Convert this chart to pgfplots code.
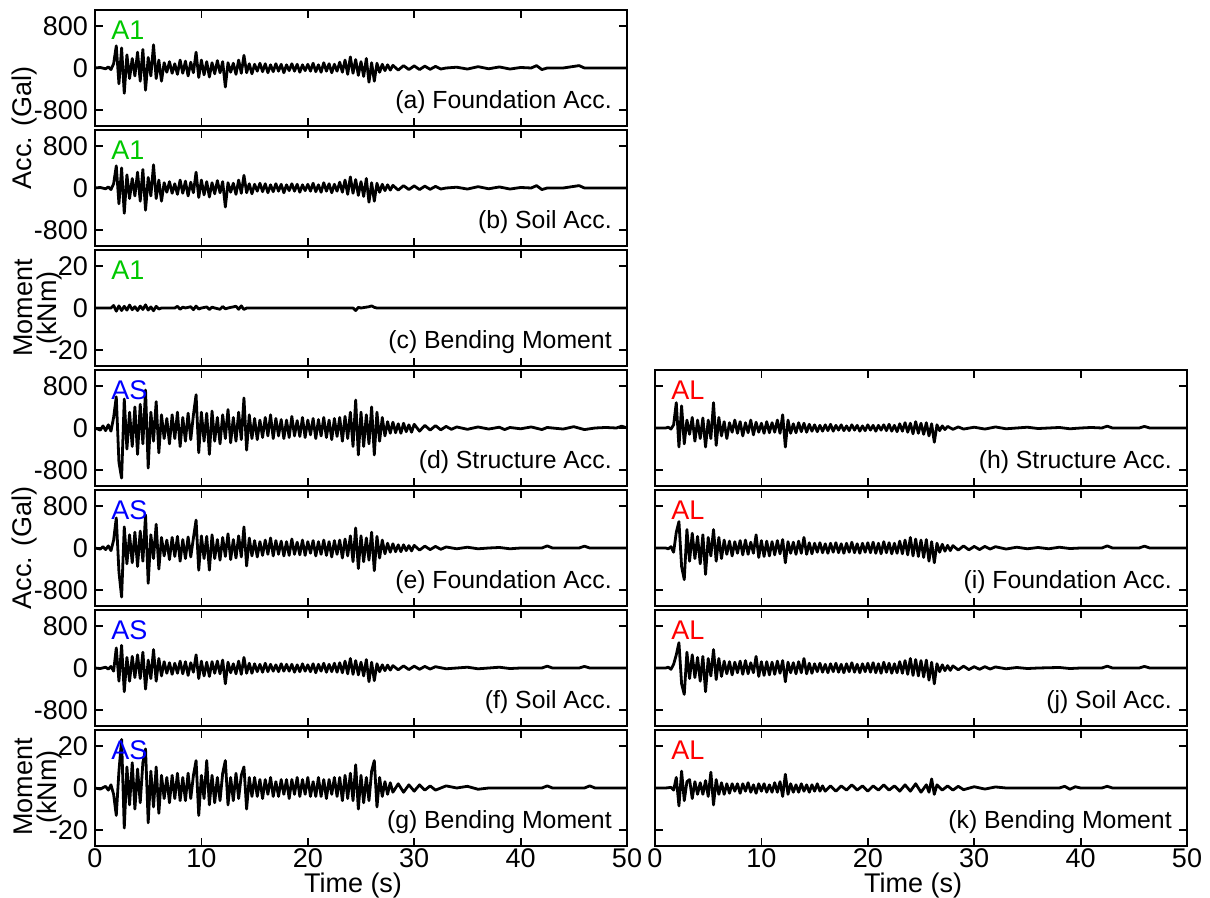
\documentclass[border=0pt]{standalone}
\usepackage{fontspec}
\setmainfont{Liberation Sans}
\usepackage{pgfplots}
\usepackage{pgfplotstable}
\pgfplotsset{compat=1.18}

\definecolor{ca}{RGB}{0,200,0}
\definecolor{cs}{RGB}{0,0,255}
\definecolor{cl}{RGB}{255,0,0}
\newcommand\ticksize{\fontsize{13.5}{15}\selectfont}
\newcommand\lblsize{\fontsize{12.4}{14}\selectfont}

% ---- time histories: t [s], value (Gal or kNm) ----
% A1: foundation and soil acceleration
\pgfplotstableread[row sep=\\]{t y\\
0 0\\ 0.5 10\\ 1 -15\\ 1.25 20\\ 1.5 -30\\ 1.75 80\\ 2 420\\ 2.25 -300\\ 2.5 380\\ 2.75 -480\\ 3 250\\ 3.25 -200\\ 3.5 180\\ 3.75 -150\\ 4 300\\ 4.25 -250\\ 4.5 350\\ 4.75 -420\\ 5 200\\ 5.25 -150\\ 5.5 440\\ 5.75 -200\\ 6 150\\ 6.25 -250\\ 6.5 100\\ 6.75 -80\\ 7 120\\ 7.25 -100\\ 7.5 80\\ 7.75 -120\\ 8 150\\ 8.25 -100\\ 8.5 130\\ 8.75 -150\\ 9 110\\ 9.25 -90\\ 9.5 300\\ 9.75 -180\\ 10 150\\ 10.25 -130\\ 10.5 120\\ 10.75 -170\\ 11 100\\ 11.25 -110\\ 11.5 140\\ 11.75 -90\\ 12 120\\ 12.25 -360\\ 12.5 100\\ 12.75 -80\\ 13 90\\ 13.25 -120\\ 13.5 150\\ 13.75 -100\\ 14 240\\ 14.25 -90\\ 14.5 80\\ 14.75 -110\\ 15 70\\ 15.25 -60\\ 15.5 90\\ 15.75 -70\\ 16 80\\ 16.25 -90\\ 16.5 60\\ 16.75 -70\\ 17 80\\ 17.25 -60\\ 17.5 70\\ 17.75 -90\\ 18 60\\ 18.25 -50\\ 18.5 80\\ 18.75 -60\\ 19 70\\ 19.25 -80\\ 19.5 60\\ 19.75 -50\\ 20 70\\ 20.25 -60\\ 20.5 90\\ 20.75 -70\\ 21 60\\ 21.25 -80\\ 21.5 100\\ 21.75 -60\\ 22 80\\ 22.25 -90\\ 22.5 70\\ 22.75 -60\\ 23 110\\ 23.25 -80\\ 23.5 150\\ 23.75 -120\\ 24 210\\ 24.25 -100\\ 24.5 160\\ 24.75 -140\\ 25 120\\ 25.25 -160\\ 25.5 180\\ 25.75 -270\\ 26 100\\ 26.25 -250\\ 26.5 90\\ 26.75 -80\\ 27 70\\ 27.25 -50\\ 27.5 60\\ 27.75 -40\\ 28 50\\ 28.5 -40\\ 29 45\\ 29.5 -30\\ 30 40\\ 30.5 -30\\ 31 35\\ 31.5 -25\\ 32 30\\ 32.5 -20\\ 33 0\\ 34 15\\ 35 -20\\ 36 25\\ 37 -15\\ 38 20\\ 39 -20\\ 40 10\\ 41 0\\ 41.5 45\\ 42 -30\\ 42.5 0\\ 44 0\\ 45.5 45\\ 46 0\\ 50 0\\
}\accA

% A1: bending moment
\pgfplotstableread[row sep=\\]{t y\\
0 0\\ 1.5 0\\ 1.75 1.2\\ 2 -1.5\\ 2.25 1.0\\ 2.5 -1.2\\ 2.75 0.8\\ 3 -1.0\\ 3.25 1.4\\ 3.5 -0.8\\ 3.75 0.6\\ 4 -1.2\\ 4.25 0.9\\ 4.5 -0.7\\ 4.75 1.5\\ 5 -1.0\\ 5.25 0.5\\ 5.5 -1.3\\ 5.75 0.8\\ 6 -0.5\\ 6.25 0\\ 7.5 0\\ 7.75 0.8\\ 8 -0.6\\ 8.25 0.4\\ 8.5 0\\ 9 0.6\\ 9.25 -0.8\\ 9.5 0.9\\ 9.75 -0.5\\ 10 0\\ 10.5 0.5\\ 10.75 -0.7\\ 11 0.4\\ 11.25 0\\ 11.75 -0.6\\ 12 0.7\\ 12.25 -0.4\\ 12.5 0\\ 13.25 0.8\\ 13.5 -0.6\\ 13.75 1.0\\ 14 -0.7\\ 14.25 0\\ 24.25 0\\ 24.5 -1.2\\ 24.75 0.3\\ 25 0\\ 25.75 0.6\\ 26 1.0\\ 26.25 0.3\\ 26.5 0\\ 50 0\\
}\momA

% AS: structure acceleration
\pgfplotstableread[row sep=\\]{t y\\
0 0\\ 0.5 -40\\ 0.75 40\\ 1 -50\\ 1.25 60\\ 1.5 -60\\ 1.75 200\\ 2 590\\ 2.25 -650\\ 2.5 -950\\ 2.75 550\\ 3 -400\\ 3.25 300\\ 3.5 -350\\ 3.75 400\\ 4 -500\\ 4.25 450\\ 4.5 -300\\ 4.75 720\\ 5 -760\\ 5.25 300\\ 5.5 -250\\ 5.75 500\\ 6 -470\\ 6.25 250\\ 6.5 -200\\ 6.75 180\\ 7 -300\\ 7.25 250\\ 7.5 -200\\ 7.75 300\\ 8 -350\\ 8.25 200\\ 8.5 -250\\ 8.75 280\\ 9 -220\\ 9.25 250\\ 9.5 630\\ 9.75 -470\\ 10 300\\ 10.25 -250\\ 10.5 280\\ 10.75 -500\\ 11 320\\ 11.25 -250\\ 11.5 200\\ 11.75 -300\\ 12 250\\ 12.25 -200\\ 12.5 350\\ 12.75 -280\\ 13 200\\ 13.25 -250\\ 13.5 300\\ 13.75 -220\\ 14 570\\ 14.25 -420\\ 14.5 250\\ 14.75 -200\\ 15 180\\ 15.25 -220\\ 15.5 150\\ 15.75 -180\\ 16 200\\ 16.25 -150\\ 16.5 250\\ 16.75 -200\\ 17 180\\ 17.25 -150\\ 17.5 160\\ 17.75 -200\\ 18 150\\ 18.25 -180\\ 18.5 220\\ 18.75 -150\\ 19 140\\ 19.25 -160\\ 19.5 200\\ 19.75 -180\\ 20 150\\ 20.25 -130\\ 20.5 180\\ 20.75 -200\\ 21 160\\ 21.25 -150\\ 21.5 200\\ 21.75 -180\\ 22 150\\ 22.25 -220\\ 22.5 180\\ 22.75 -160\\ 23 200\\ 23.25 -250\\ 23.5 220\\ 23.75 -200\\ 24 300\\ 24.25 -350\\ 24.5 530\\ 24.75 -510\\ 25 300\\ 25.25 -350\\ 25.5 250\\ 25.75 -300\\ 26 400\\ 26.25 -510\\ 26.5 300\\ 26.75 -250\\ 27 200\\ 27.25 -150\\ 27.5 120\\ 27.75 -100\\ 28 110\\ 28.25 -90\\ 28.5 80\\ 28.75 -100\\ 29 90\\ 29.25 -70\\ 29.5 60\\ 29.75 -80\\ 30 70\\ 30.5 -60\\ 31 50\\ 31.5 -40\\ 32 45\\ 32.5 -35\\ 33 30\\ 33.5 -25\\ 34 20\\ 35 -25\\ 36 20\\ 37 -20\\ 38 15\\ 38.5 -30\\ 39 10\\ 40 -15\\ 41 20\\ 42 -30\\ 42.5 10\\ 43 0\\ 44 -20\\ 45 25\\ 46 -30\\ 47 0\\ 48 10\\ 49 0\\ 49.5 35\\ 50 0\\
}\strS

% AS: foundation acceleration
\pgfplotstableread[row sep=\\]{t y\\
0 0\\ 0.5 -20\\ 0.75 25\\ 1 -30\\ 1.25 40\\ 1.5 -50\\ 1.75 150\\ 2 570\\ 2.25 -450\\ 2.5 -930\\ 2.75 400\\ 3 -300\\ 3.25 250\\ 3.5 -280\\ 3.75 300\\ 4 -350\\ 4.25 320\\ 4.5 -250\\ 4.75 630\\ 5 -670\\ 5.25 250\\ 5.5 -200\\ 5.75 450\\ 6 -400\\ 6.25 200\\ 6.5 -150\\ 6.75 150\\ 7 -220\\ 7.25 200\\ 7.5 -160\\ 7.75 220\\ 8 -250\\ 8.25 160\\ 8.5 -200\\ 8.75 210\\ 9 -170\\ 9.25 190\\ 9.5 530\\ 9.75 -420\\ 10 230\\ 10.25 -200\\ 10.5 220\\ 10.75 -420\\ 11 250\\ 11.25 -200\\ 11.5 160\\ 11.75 -230\\ 12 200\\ 12.25 -160\\ 12.5 270\\ 12.75 -220\\ 13 160\\ 13.25 -190\\ 13.5 230\\ 13.75 -170\\ 14 400\\ 14.25 -340\\ 14.5 190\\ 14.75 -150\\ 15 140\\ 15.25 -170\\ 15.5 120\\ 15.75 -140\\ 16 150\\ 16.25 -120\\ 16.5 190\\ 16.75 -150\\ 17 140\\ 17.25 -120\\ 17.5 130\\ 17.75 -150\\ 18 120\\ 18.25 -140\\ 18.5 170\\ 18.75 -120\\ 19 110\\ 19.25 -130\\ 19.5 150\\ 19.75 -140\\ 20 120\\ 20.25 -100\\ 20.5 140\\ 20.75 -150\\ 21 120\\ 21.25 -120\\ 21.5 150\\ 21.75 -140\\ 22 120\\ 22.25 -170\\ 22.5 140\\ 22.75 -120\\ 23 150\\ 23.25 -190\\ 23.5 170\\ 23.75 -150\\ 24 230\\ 24.25 -260\\ 24.5 380\\ 24.75 -390\\ 25 230\\ 25.25 -260\\ 25.5 190\\ 25.75 -230\\ 26 300\\ 26.25 -430\\ 26.5 220\\ 26.75 -190\\ 27 150\\ 27.25 -110\\ 27.5 90\\ 27.75 -80\\ 28 80\\ 28.25 -70\\ 28.5 60\\ 28.75 -70\\ 29 60\\ 29.25 -50\\ 29.5 45\\ 29.75 -55\\ 30 50\\ 30.5 -40\\ 31 35\\ 31.5 -30\\ 32 30\\ 32.5 -25\\ 33 20\\ 34 -15\\ 35 15\\ 36 -15\\ 37 0\\ 38 10\\ 39 -15\\ 40 0\\ 42 0\\ 42.5 40\\ 43 0\\ 45.5 0\\ 46 35\\ 46.5 0\\ 50 0\\
}\fndS

% AS: soil acceleration
\pgfplotstableread[row sep=\\]{t y\\
0 0\\ 0.5 -10\\ 1 15\\ 1.25 -20\\ 1.5 30\\ 1.75 -60\\ 2 380\\ 2.25 -250\\ 2.5 430\\ 2.75 -450\\ 3 200\\ 3.25 -250\\ 3.5 220\\ 3.75 -180\\ 4 250\\ 4.25 -200\\ 4.5 300\\ 4.75 -400\\ 5 150\\ 5.25 -200\\ 5.5 350\\ 5.75 -250\\ 6 180\\ 6.25 -150\\ 6.5 120\\ 6.75 -100\\ 7 100\\ 7.25 -120\\ 7.5 90\\ 7.75 -100\\ 8 130\\ 8.25 -110\\ 8.5 120\\ 8.75 -140\\ 9 100\\ 9.25 -80\\ 9.5 250\\ 9.75 -200\\ 10 130\\ 10.25 -150\\ 10.5 110\\ 10.75 -160\\ 11 120\\ 11.25 -100\\ 11.5 130\\ 11.75 -110\\ 12 150\\ 12.25 -300\\ 12.5 110\\ 12.75 -90\\ 13 80\\ 13.25 -110\\ 13.5 130\\ 13.75 -120\\ 14 200\\ 14.25 -100\\ 14.5 90\\ 14.75 -100\\ 15 80\\ 15.25 -70\\ 15.5 70\\ 15.75 -80\\ 16 90\\ 16.25 -70\\ 16.5 70\\ 16.75 -60\\ 17 60\\ 17.25 -70\\ 17.5 80\\ 17.75 -60\\ 18 70\\ 18.25 -60\\ 18.5 70\\ 18.75 -80\\ 19 60\\ 19.25 -70\\ 19.5 80\\ 19.75 -60\\ 20 60\\ 20.25 -70\\ 20.5 80\\ 20.75 -90\\ 21 70\\ 21.25 -60\\ 21.5 90\\ 21.75 -80\\ 22 70\\ 22.25 -70\\ 22.5 90\\ 22.75 -80\\ 23 100\\ 23.25 -90\\ 23.5 130\\ 23.75 -110\\ 24 180\\ 24.25 -120\\ 24.5 140\\ 24.75 -130\\ 25 110\\ 25.25 -150\\ 25.5 160\\ 25.75 -260\\ 26 110\\ 26.25 -240\\ 26.5 80\\ 26.75 -70\\ 27 60\\ 27.25 -50\\ 27.5 55\\ 27.75 -40\\ 28 45\\ 28.5 -35\\ 29 40\\ 29.5 -30\\ 30 35\\ 30.5 -25\\ 31 30\\ 31.5 -20\\ 32 25\\ 33 -15\\ 34 0\\ 35 15\\ 36 -15\\ 37 0\\ 38 15\\ 39 -10\\ 40 0\\ 42 0\\ 42.5 35\\ 43 0\\ 45.5 0\\ 46 30\\ 46.5 0\\ 50 0\\
}\soiS

% AS: bending moment
\pgfplotstableread[row sep=\\]{t y\\
0 0\\ 0.5 -0.5\\ 1 0.8\\ 1.25 -1\\ 1.5 1.5\\ 1.75 -3\\ 2 -13\\ 2.25 8\\ 2.5 23\\ 2.75 -19\\ 3 10\\ 3.25 -8\\ 3.5 12\\ 3.75 -10\\ 4 9\\ 4.25 -7\\ 4.5 12\\ 4.75 18.5\\ 5 -16.5\\ 5.25 8\\ 5.5 -9\\ 5.75 10\\ 6 -12\\ 6.25 6\\ 6.5 -5\\ 6.75 5\\ 7 -7\\ 7.25 6\\ 7.5 -5\\ 7.75 7\\ 8 -6\\ 8.25 5\\ 8.5 -6\\ 8.75 7\\ 9 -5\\ 9.25 6\\ 9.5 13\\ 9.75 -13\\ 10 6\\ 10.25 -5\\ 10.5 13\\ 10.75 -8\\ 11 6\\ 11.25 -7\\ 11.5 5\\ 11.75 -6\\ 12 7\\ 12.25 13\\ 12.5 -8\\ 12.75 5\\ 13 -6\\ 13.25 7\\ 13.5 -5\\ 13.75 6\\ 14 10\\ 14.25 -10\\ 14.5 5\\ 14.75 -4\\ 15 5\\ 15.25 -4\\ 15.5 4\\ 15.75 -5\\ 16 4\\ 16.25 -3\\ 16.5 5\\ 16.75 -4\\ 17 3\\ 17.25 -4\\ 17.5 4\\ 17.75 -3\\ 18 4\\ 18.25 -5\\ 18.5 4\\ 18.75 -3\\ 19 5\\ 19.25 -4\\ 19.5 4\\ 19.75 -3\\ 20 5\\ 20.25 -4\\ 20.5 3\\ 20.75 -4\\ 21 5\\ 21.25 -4\\ 21.5 4\\ 21.75 -5\\ 22 4\\ 22.25 -3\\ 22.5 5\\ 22.75 -4\\ 23 5\\ 23.25 -6\\ 23.5 6\\ 23.75 -5\\ 24 7\\ 24.25 -6\\ 24.5 11\\ 24.75 -10\\ 25 6\\ 25.25 -7\\ 25.5 5\\ 25.75 -6\\ 26 8\\ 26.25 13\\ 26.5 -9\\ 26.75 5\\ 27 -4\\ 27.25 3\\ 27.5 -3\\ 27.75 2.5\\ 28 -2\\ 28.5 2\\ 29 -2\\ 29.5 1.5\\ 30 -1.5\\ 30.5 1.5\\ 31 -1\\ 31.5 1\\ 32 -1\\ 33 1\\ 34 0\\ 35 0.8\\ 36 -0.6\\ 37 0\\ 42 0\\ 42.5 1\\ 43 0\\ 46 0\\ 46.5 1\\ 47 0\\ 50 0\\
}\momS

% AL: structure acceleration
\pgfplotstableread[row sep=\\]{t y\\
0 0\\ 1 0\\ 1.25 15\\ 1.5 -20\\ 1.75 60\\ 2 480\\ 2.25 -360\\ 2.5 420\\ 2.75 -300\\ 3 150\\ 3.25 -120\\ 3.5 200\\ 3.75 -250\\ 4 150\\ 4.25 -200\\ 4.5 190\\ 4.75 -360\\ 5 150\\ 5.25 -200\\ 5.5 480\\ 5.75 -330\\ 6 200\\ 6.25 -150\\ 6.5 120\\ 6.75 -200\\ 7 100\\ 7.25 -80\\ 7.5 150\\ 7.75 -100\\ 8 120\\ 8.25 -150\\ 8.5 100\\ 8.75 -90\\ 9 150\\ 9.25 -130\\ 9.5 110\\ 9.75 -80\\ 10 90\\ 10.25 -100\\ 10.5 120\\ 10.75 -90\\ 11 100\\ 11.25 -80\\ 11.5 150\\ 11.75 -100\\ 12 250\\ 12.25 -360\\ 12.5 150\\ 12.75 -100\\ 13 80\\ 13.25 -90\\ 13.5 100\\ 13.75 -70\\ 14 90\\ 14.25 -80\\ 14.5 70\\ 14.75 -60\\ 15 60\\ 15.25 -70\\ 15.5 50\\ 15.75 -60\\ 16 60\\ 16.25 -50\\ 16.5 70\\ 16.75 -60\\ 17 50\\ 17.25 -40\\ 17.5 60\\ 17.75 -50\\ 18 40\\ 18.25 -50\\ 18.5 60\\ 18.75 -40\\ 19 50\\ 19.25 -60\\ 19.5 40\\ 19.75 -50\\ 20 60\\ 20.25 -40\\ 20.5 50\\ 20.75 -60\\ 21 50\\ 21.25 -40\\ 21.5 60\\ 21.75 -50\\ 22 70\\ 22.25 -60\\ 22.5 50\\ 22.75 -70\\ 23 80\\ 23.25 -60\\ 23.5 100\\ 23.75 -80\\ 24 90\\ 24.25 -110\\ 24.5 120\\ 24.75 -100\\ 25 90\\ 25.25 -120\\ 25.5 100\\ 25.75 -150\\ 26 80\\ 26.25 -270\\ 26.5 60\\ 26.75 -50\\ 27 40\\ 27.25 -30\\ 27.5 30\\ 28 -25\\ 28.5 20\\ 29 -20\\ 30 15\\ 31 -20\\ 32 20\\ 33 -15\\ 34 0\\ 35 15\\ 36 -10\\ 37 0\\ 38 10\\ 39 -15\\ 40 0\\ 41 10\\ 42 0\\ 42.5 35\\ 43 0\\ 45.5 0\\ 46 30\\ 46.5 0\\ 50 0\\
}\strL

% AL: foundation acceleration
\pgfplotstableread[row sep=\\]{t y\\
0 0\\ 1 0\\ 1.25 -15\\ 1.5 25\\ 1.75 -80\\ 2 300\\ 2.25 500\\ 2.5 -350\\ 2.75 -600\\ 3 350\\ 3.25 -250\\ 3.5 280\\ 3.75 -200\\ 4 220\\ 4.25 -300\\ 4.5 250\\ 4.75 -500\\ 5 200\\ 5.25 -150\\ 5.5 350\\ 5.75 -250\\ 6 200\\ 6.25 -200\\ 6.5 150\\ 6.75 -120\\ 7 130\\ 7.25 -150\\ 7.5 120\\ 7.75 -100\\ 8 140\\ 8.25 -130\\ 8.5 150\\ 8.75 -120\\ 9 110\\ 9.25 -100\\ 9.5 250\\ 9.75 -180\\ 10 140\\ 10.25 -160\\ 10.5 130\\ 10.75 -150\\ 11 120\\ 11.25 -130\\ 11.5 140\\ 11.75 -110\\ 12 160\\ 12.25 -280\\ 12.5 120\\ 12.75 -100\\ 13 110\\ 13.25 -120\\ 13.5 130\\ 13.75 -100\\ 14 200\\ 14.25 -120\\ 14.5 100\\ 14.75 -110\\ 15 90\\ 15.25 -80\\ 15.5 100\\ 15.75 -90\\ 16 80\\ 16.25 -100\\ 16.5 90\\ 16.75 -80\\ 17 100\\ 17.25 -90\\ 17.5 80\\ 17.75 -100\\ 18 90\\ 18.25 -80\\ 18.5 110\\ 18.75 -90\\ 19 80\\ 19.25 -100\\ 19.5 90\\ 19.75 -80\\ 20 100\\ 20.25 -90\\ 20.5 110\\ 20.75 -100\\ 21 90\\ 21.25 -110\\ 21.5 120\\ 21.75 -90\\ 22 100\\ 22.25 -110\\ 22.5 90\\ 22.75 -100\\ 23 130\\ 23.25 -110\\ 23.5 150\\ 23.75 -130\\ 24 200\\ 24.25 -150\\ 24.5 170\\ 24.75 -160\\ 25 150\\ 25.25 -180\\ 25.5 160\\ 25.75 -250\\ 26 120\\ 26.25 -280\\ 26.5 90\\ 26.75 -80\\ 27 70\\ 27.25 -60\\ 27.5 50\\ 27.75 -50\\ 28 45\\ 28.5 -40\\ 29 40\\ 29.5 -35\\ 30 30\\ 30.5 -30\\ 31 30\\ 31.5 -20\\ 32 25\\ 33 -20\\ 34 15\\ 35 -15\\ 36 10\\ 37 -15\\ 38 15\\ 39 -10\\ 40 0\\ 42 0\\ 42.5 40\\ 43 0\\ 45.5 0\\ 46 35\\ 46.5 0\\ 50 0\\
}\fndL

% AL: soil acceleration
\pgfplotstableread[row sep=\\]{t y\\
0 0\\ 1 0\\ 1.25 15\\ 1.5 -25\\ 1.75 70\\ 2 250\\ 2.25 480\\ 2.5 -300\\ 2.75 -500\\ 3 300\\ 3.25 -200\\ 3.5 250\\ 3.75 -180\\ 4 200\\ 4.25 -250\\ 4.5 220\\ 4.75 -450\\ 5 180\\ 5.25 -150\\ 5.5 350\\ 5.75 -220\\ 6 180\\ 6.25 -160\\ 6.5 130\\ 6.75 -110\\ 7 120\\ 7.25 -130\\ 7.5 110\\ 7.75 -90\\ 8 130\\ 8.25 -120\\ 8.5 140\\ 8.75 -110\\ 9 100\\ 9.25 -90\\ 9.5 220\\ 9.75 -160\\ 10 120\\ 10.25 -140\\ 10.5 120\\ 10.75 -130\\ 11 110\\ 11.25 -120\\ 11.5 130\\ 11.75 -100\\ 12 140\\ 12.25 -260\\ 12.5 110\\ 12.75 -90\\ 13 100\\ 13.25 -110\\ 13.5 120\\ 13.75 -90\\ 14 180\\ 14.25 -110\\ 14.5 90\\ 14.75 -100\\ 15 80\\ 15.25 -70\\ 15.5 90\\ 15.75 -80\\ 16 70\\ 16.25 -90\\ 16.5 80\\ 16.75 -70\\ 17 90\\ 17.25 -80\\ 17.5 70\\ 17.75 -90\\ 18 80\\ 18.25 -70\\ 18.5 100\\ 18.75 -80\\ 19 70\\ 19.25 -90\\ 19.5 80\\ 19.75 -70\\ 20 90\\ 20.25 -80\\ 20.5 100\\ 20.75 -90\\ 21 80\\ 21.25 -100\\ 21.5 110\\ 21.75 -80\\ 22 90\\ 22.25 -100\\ 22.5 80\\ 22.75 -90\\ 23 120\\ 23.25 -100\\ 23.5 140\\ 23.75 -120\\ 24 180\\ 24.25 -140\\ 24.5 160\\ 24.75 -150\\ 25 140\\ 25.25 -170\\ 25.5 150\\ 25.75 -230\\ 26 110\\ 26.25 -300\\ 26.5 80\\ 26.75 -70\\ 27 60\\ 27.25 -50\\ 27.5 45\\ 27.75 -45\\ 28 40\\ 28.5 -35\\ 29 35\\ 29.5 -30\\ 30 25\\ 30.5 -25\\ 31 25\\ 31.5 -20\\ 32 20\\ 33 -15\\ 34 10\\ 35 -10\\ 36 0\\ 38 10\\ 39 -10\\ 40 0\\ 42 0\\ 42.5 35\\ 43 0\\ 45.5 0\\ 46 30\\ 46.5 0\\ 50 0\\
}\soiL

% AL: bending moment
\pgfplotstableread[row sep=\\]{t y\\
0 0\\ 1 0\\ 1.5 0.3\\ 1.75 -1\\ 2 5\\ 2.25 -8.5\\ 2.5 8\\ 2.75 -6\\ 3 3\\ 3.25 4\\ 3.5 -5\\ 3.75 3\\ 4 -3\\ 4.25 2.5\\ 4.5 -3\\ 4.75 3.5\\ 5 -4\\ 5.25 7.5\\ 5.5 -8\\ 5.75 4\\ 6 -3\\ 6.25 2.5\\ 6.5 -3\\ 6.75 2\\ 7 -2.5\\ 7.25 2\\ 7.5 -1.5\\ 7.75 2\\ 8 -2.5\\ 8.25 2\\ 8.5 -1.5\\ 8.75 2.5\\ 9 -2\\ 9.25 1.5\\ 9.5 -2.5\\ 9.75 2\\ 10 -1.5\\ 10.25 2\\ 10.5 -2\\ 10.75 1.5\\ 11 -2\\ 11.25 2.5\\ 11.5 -2\\ 11.75 3\\ 12 -4\\ 12.25 6.5\\ 12.5 -3\\ 12.75 2\\ 13 -2\\ 13.25 1.5\\ 13.5 -2\\ 13.75 2\\ 14 -1.5\\ 14.25 1.5\\ 14.5 -2\\ 14.75 1.5\\ 15 -1.5\\ 15.25 2\\ 15.5 -1.5\\ 15.75 1\\ 16 -1.5\\ 16.5 1\\ 17 -1.5\\ 17.5 1\\ 18 -1\\ 18.5 1.5\\ 19 -1\\ 19.5 1\\ 20 -1.5\\ 20.5 1\\ 21 -1\\ 21.5 1.5\\ 22 -1\\ 22.5 1\\ 23 -1.5\\ 23.5 1.5\\ 24 -1.5\\ 24.5 2\\ 25 -2\\ 25.5 1.5\\ 25.75 -2\\ 26 4.3\\ 26.25 -3\\ 26.5 1.5\\ 27 -1\\ 27.5 1\\ 28 -1\\ 28.5 0.8\\ 29 -0.8\\ 30 0.6\\ 31 -0.5\\ 32 0.5\\ 33 0\\ 38 0\\ 38.5 0.8\\ 39 -0.6\\ 39.5 0.6\\ 40 0\\ 42 0\\ 42.5 0.8\\ 43 0\\ 50 0\\
}\momL

\pgfplotsset{
  panel/.style={
    scale only axis, width=266pt, height=58pt, anchor=north west,
    xmin=0, xmax=50, xtick={0,10,...,50}, xticklabels={},
    tick align=inside, major tick length=4pt,
    axis line style={line width=1pt},
    every tick/.append style={line width=0.9pt, black},
    tick label style={font=\ticksize},
    xticklabel style={inner sep=1pt},
  },
  acc/.style={ymin=-1100, ymax=1100, ytick={-800,0,800}, yticklabels={-800,0,800}},
  mom/.style={ymin=-27.5, ymax=27.5, ytick={-20,0,20}, yticklabels={-20,0,20}},
  noy/.style={yticklabels={}},
  bottom/.style={
    xticklabels={0,10,20,30,40,50}, xlabel={Time (s)},
    xlabel style={font=\ticksize, inner sep=1pt, at={(axis description cs:0.485,0)}, anchor=center, yshift=-20pt},
  },
  trace/.style={black, line width=1.4pt, sharp plot, line join=round},
}
\newcommand\ptag[2]{\node[anchor=west, inner sep=0pt, text=#1, font=\ticksize] at (rel axis cs:0.03,0.83) {#2};}
\newcommand\pcap[1]{\node[anchor=east, inner sep=0pt, font=\lblsize] at (rel axis cs:0.972,0.205) {#1};}

\begin{document}
\begin{tikzpicture}
\useasboundingbox (0,0) rectangle (605pt,-449pt);

% left column
\begin{axis}[panel, acc, at={(47.5pt,-5pt)}]
  \addplot[trace] table[x=t,y=y] {\accA};
  \ptag{ca}{A1}\pcap{(a) Foundation Acc.}
\end{axis}
\begin{axis}[panel, acc, at={(47.5pt,-65pt)}]
  \addplot[trace] table[x=t,y=y] {\accA};
  \ptag{ca}{A1}\pcap{(b) Soil Acc.}
\end{axis}
\begin{axis}[panel, mom, at={(47.5pt,-125pt)}]
  \addplot[trace] table[x=t,y=y] {\momA};
  \ptag{ca}{A1}\pcap{(c) Bending Moment}
\end{axis}
\begin{axis}[panel, acc, at={(47.5pt,-185pt)}]
  \addplot[trace] table[x=t,y=y] {\strS};
  \ptag{cs}{AS}\pcap{(d) Structure Acc.}
\end{axis}
\begin{axis}[panel, acc, at={(47.5pt,-245pt)}]
  \addplot[trace] table[x=t,y=y] {\fndS};
  \ptag{cs}{AS}\pcap{(e) Foundation Acc.}
\end{axis}
\begin{axis}[panel, acc, at={(47.5pt,-305pt)}]
  \addplot[trace] table[x=t,y=y] {\soiS};
  \ptag{cs}{AS}\pcap{(f) Soil Acc.}
\end{axis}
\begin{axis}[panel, mom, bottom, at={(47.5pt,-365pt)}]
  \addplot[trace] table[x=t,y=y] {\momS};
  \ptag{cs}{AS}\pcap{(g) Bending Moment}
\end{axis}

% right column
\begin{axis}[panel, acc, noy, at={(327.5pt,-185pt)}]
  \addplot[trace] table[x=t,y=y] {\strL};
  \ptag{cl}{AL}\pcap{(h) Structure Acc.}
\end{axis}
\begin{axis}[panel, acc, noy, at={(327.5pt,-245pt)}]
  \addplot[trace] table[x=t,y=y] {\fndL};
  \ptag{cl}{AL}\pcap{(i) Foundation Acc.}
\end{axis}
\begin{axis}[panel, acc, noy, at={(327.5pt,-305pt)}]
  \addplot[trace] table[x=t,y=y] {\soiL};
  \ptag{cl}{AL}\pcap{(j) Soil Acc.}
\end{axis}
\begin{axis}[panel, mom, noy, bottom, at={(327.5pt,-365pt)}]
  \addplot[trace] table[x=t,y=y] {\momL};
  \ptag{cl}{AL}\pcap{(k) Bending Moment}
\end{axis}

% y-axis titles
\node[rotate=90, font=\ticksize] at (12.5pt,-64pt) {Acc. (Gal)};
\node[rotate=90, font=\ticksize] at (12.5pt,-274pt) {Acc. (Gal)};
\node[rotate=90, align=center, font=\fontsize{13.5}{12}\selectfont] at (19pt,-154pt) {Moment\\(kNm)};
\node[rotate=90, align=center, font=\fontsize{13.5}{12}\selectfont] at (19pt,-393.5pt) {Moment\\(kNm)};
\end{tikzpicture}
\end{document}
